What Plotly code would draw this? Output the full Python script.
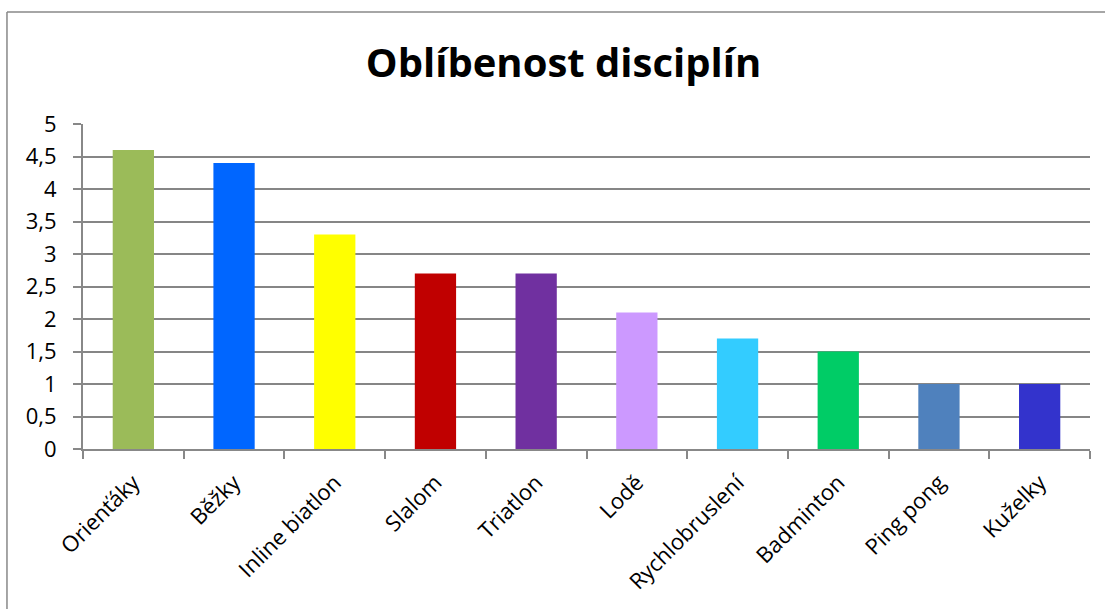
import plotly.graph_objects as go

categories = ["Orienťáky", "Běžky", "Inline biatlon", "Slalom", "Triatlon", "Lodě",
              "Rychlobruslení", "Badminton", "Ping pong", "Kuželky"]
values = [4.6, 4.4, 3.3, 2.7, 2.7, 2.1, 1.7, 1.5, 1.0, 1.0]
colors = ["#9BBB59", "#0066FF", "#FFFF00", "#C00000", "#7030A0", "#CC99FF",
          "#33CCFF", "#00CC66", "#4F81BD", "#3333CC"]
title_text = "Oblíbenost disciplín"

fig = go.Figure(go.Bar(x=categories, y=values, marker=dict(color=colors, line=dict(width=0)),
                       width=0.41))

font_family = "Open Sans, Liberation Sans, sans-serif"

fig.update_layout(
    width=1105, height=609,
    margin=dict(l=83, r=15, t=124, b=160),
    paper_bgcolor="white", plot_bgcolor="white",
    separators=",.",
    showlegend=False,
    font=dict(family=font_family, color="black"),
    title=dict(text="<b>" + title_text + "</b>", x=0.51, xanchor="center",
               y=0.897, yanchor="middle", font=dict(size=40, color="black", family=font_family)),
    xaxis=dict(
        showgrid=False, showline=True, linecolor="#888888", linewidth=2,
        ticks="outside", tickson="boundaries", ticklen=8, tickcolor="#888888", tickwidth=2,
        tickangle=-45, tickfont=dict(size=22, color="black"), ticklabelstandoff=10,
    ),
    yaxis=dict(
        range=[0, 5], tickvals=[0, 0.5, 1, 1.5, 2, 2.5, 3, 3.5, 4, 4.5, 5],
        showgrid=True, gridcolor="#868686", gridwidth=1.5,
        showline=True, linecolor="#888888", linewidth=2,
        ticks="outside", ticklen=8, tickcolor="#888888", tickwidth=2,
        tickfont=dict(size=22, color="black"), ticklabelstandoff=12,
        zeroline=False,
    ),
    shapes=[
        dict(type="line", xref="paper", yref="paper", x0=-0.0755, x1=1.1, y0=1.3446, y1=1.3446,
             line=dict(color="#888888", width=1.5)),
        dict(type="line", xref="paper", yref="paper", x0=-0.0755, x1=-0.0755, y0=-0.6, y1=1.3446,
             line=dict(color="#888888", width=1.5)),
    ],
)

fig.write_html("out.html", config={"displayModeBar": False},
               post_script="document.body.style.margin='0';document.body.style.overflow='hidden';")
